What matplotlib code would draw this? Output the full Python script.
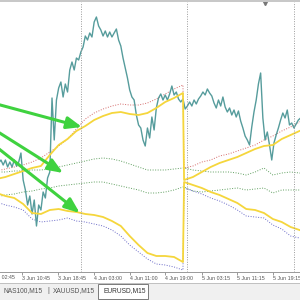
import matplotlib.pyplot as plt
from matplotlib.patches import Rectangle
from matplotlib.lines import Line2D
import matplotlib.transforms as mtransforms
import pandas as pd

# price (30 min samples of the M15 candles)
price_times = pd.date_range('2025-06-03 05:30', '2025-06-06 01:30', freq='30min')
price = [137, 140, 135, 140, 133, 138, 133, 140, 134, 138,
         147, 120, 110, 95, 104, 86, 100, 74, 95, 90,
         108, 102, 122, 128, 202, 160, 200, 212, 218, 203,
         216, 208, 230, 238, 230, 242, 240, 248, 253, 264,
         260, 267, 263, 278, 283, 274, 270, 264, 269, 263,
         268, 263, 267, 271, 260, 254, 242, 232, 222, 210,
         203, 200, 185, 175, 172, 160, 154, 172, 162, 183,
         170, 192, 202, 206, 200, 205, 200, 206, 214, 205,
         208, 201, 198, 201, 191, 194, 198, 194, 200, 196,
         201, 204, 208, 205, 211, 207, 204, 197, 192, 200,
         194, 203, 193, 188, 192, 185, 190, 183, 189, 179,
         172, 164, 160, 155, 173, 188, 200, 216, 227, 182,
         160, 168, 155, 140, 157, 165, 172, 180, 187, 182,
         190, 175, 177, 172, 176, 180, 182]

# band times: first session, then reset session
t1 = pd.date_range('2025-06-03 05:00', '2025-06-04 23:00', freq='2h')
t2 = pd.date_range('2025-06-04 23:15', '2025-06-06 03:15', freq='2h')
band_times = t1.append(t2)

upper_yellow = [121, 123, 126, 129, 132, 134, 145, 155, 161, 169, 174, 180, 184, 187, 188, 186, 185, 187, 192, 198, 202, 207,
                120, 123, 128, 133, 137, 140, 143, 147, 151, 154, 155, 161, 165, 169, 172]
lower_yellow = [107, 104, 102, 96, 87, 86, 90, 91, 89, 88, 86, 85, 83, 79, 74, 64, 55, 47, 44, 44, 43, 38,
                118, 115, 112, 108, 105, 101, 97, 91, 90, 87, 81, 78, 73, 70, 67]
red_band = [129, 131, 133, 135, 138, 142, 148, 154, 161, 171, 181, 187, 191, 194, 196, 195, 195, 197, 201, 206, 211, 215,
            132, 134, 138, 140, 144, 146, 149, 152, 155, 160, 164, 169, 173, 178, 182]
blue_band = [98, 95, 93, 90, 81, 78, 79, 80, 82, 79, 78, 76, 74, 70, 64, 55, 48, 41, 36, 35, 33, 30,
             112, 109, 106, 102, 99, 95, 90, 84, 83, 82, 75, 71, 64, 62, 59]
green_upper = [128, 128, 129, 129, 130, 130, 131, 133, 135, 137, 139, 141, 142, 141, 139, 136, 133, 130, 130, 130, 131, 132,
               132, 130, 129, 128, 128, 128, 127, 125, 128, 132, 125, 127, 128, 127, 127]
green_lower = [103, 105, 106, 108, 109, 111, 112, 114, 115, 116, 117, 118, 118, 116, 114, 112, 110, 107, 107, 108, 110, 113,
               113, 109, 108, 109, 110, 111, 112, 110, 111, 112, 107, 110, 110, 110, 110]

day_lines = ['2025-06-04 00:00', '2025-06-05 00:00', '2025-06-06 00:00']
tick_times = ['2025-06-03 10:45', '2025-06-03 18:45', '2025-06-04 03:00', '2025-06-04 11:00',
              '2025-06-04 19:00', '2025-06-05 03:15', '2025-06-05 11:15', '2025-06-05 19:15']
tick_labels = ['3 Jun 10:45', '3 Jun 18:45', '4 Jun 03:00', '4 Jun 11:00',
               '4 Jun 19:00', '5 Jun 03:15', '5 Jun 11:15', '5 Jun 19:15']

# green arrows drawn on the screenshot: (start time, start value, end time, end value)
arrow_start_t = ['2025-06-03 05:00', '2025-06-03 05:00', '2025-06-03 05:00']
arrow_start_v = [196, 169, 153]
arrow_end_t = ['2025-06-04 00:15', '2025-06-03 20:00', '2025-06-03 23:45']
arrow_end_v = [173, 127, 87]

tabs = ['NAS100,M15', 'XAUUSD,M15', 'EURUSD,M15']

plt.rcParams['font.family'] = ['Liberation Sans', 'DejaVu Sans']

fig = plt.figure(figsize=(3, 3), dpi=100)
ax = fig.add_axes([0, 28 / 300, 1, 270 / 300])

dot = (0, (1, 1.6))
ax.plot(band_times, red_band, color='#d46a6a', lw=0.7, ls=dot)
ax.plot(band_times, green_upper, color='#5f9f5f', lw=0.7, ls=dot)
ax.plot(band_times, green_lower, color='#5f9f5f', lw=0.7, ls=dot)
ax.plot(band_times, blue_band, color='#6a6ac8', lw=0.7, ls=dot)
ax.plot(price_times, price, color='#569c9c', lw=1.0)
ax.plot(band_times, upper_yellow, color='#f5d63c', lw=1.3)
ax.plot(band_times, lower_yellow, color='#f5d63c', lw=1.3)

for d in day_lines:
    ax.axvline(pd.Timestamp(d), color='#9a9a9a', lw=0.7, ls=(0, (1, 1.5)))

for st, sv, et, ev in zip(arrow_start_t, arrow_start_v, arrow_end_t, arrow_end_v):
    ax.annotate('', xy=(pd.Timestamp(et), ev), xytext=(pd.Timestamp(st), sv),
                annotation_clip=False,
                arrowprops=dict(arrowstyle='-|>,head_length=1.0,head_width=0.4',
                                mutation_scale=9, lw=2.2, color='#3fd23f',
                                shrinkA=0, shrinkB=0))

ax.set_xlim(pd.Timestamp('2025-06-03 05:47'), pd.Timestamp('2025-06-06 01:22'))
ax.set_ylim(28, 298)

ax.set_xticks([pd.Timestamp(t) for t in tick_times])
ax.set_xticklabels(tick_labels, ha='left', fontsize=3.8, color='#555555')
ax.tick_params(axis='x', length=2, width=0.6, color='#888888', pad=1)
ax.set_yticks([])
for s in ['left', 'right', 'top']:
    ax.spines[s].set_visible(False)
ax.spines['bottom'].set_color('#999999')
ax.spines['bottom'].set_linewidth(0.7)

# label of the tick that falls off the left edge
trans = mtransforms.blended_transform_factory(ax.transData, ax.transAxes)
ax.text(pd.Timestamp('2025-06-03 02:45'), -0.012, '3 Jun 02:45', transform=trans,
        ha='left', va='top', fontsize=3.8, color='#555555', clip_on=False)

# chart shift marker
ax.plot([pd.Timestamp('2025-06-05 17:30')], [0.995], marker='v', ms=3,
        color='#777777', transform=trans, clip_on=False)

# window frame and tab bar
fig.add_artist(Rectangle((0, 298 / 300), 1, 2 / 300, transform=fig.transFigure,
                         fc='#c8c8c8', ec='none'))
fig.add_artist(Rectangle((0, 0), 1, 17 / 300, transform=fig.transFigure,
                         fc='#f0f0f0', ec='none'))
fig.add_artist(Line2D([0, 1], [17 / 300, 17 / 300], transform=fig.transFigure,
                      color='#c0c0c0', lw=0.7))
fig.add_artist(Rectangle((98 / 300, 1 / 300), 50 / 300, 15 / 300, transform=fig.transFigure,
                         fc='white', ec='#7a7a7a', lw=0.7))
fig.text(3 / 300, 9 / 300, tabs[0], fontsize=4.8, color='#555555', va='center')
fig.text(47 / 300, 9 / 300, '|', fontsize=4.8, color='#555555', va='center')
fig.text(53 / 300, 9 / 300, tabs[1], fontsize=4.8, color='#555555', va='center')
fig.text(103 / 300, 9 / 300, tabs[2], fontsize=4.8, color='#333333', va='center')

fig.savefig('out.png', dpi=100)
